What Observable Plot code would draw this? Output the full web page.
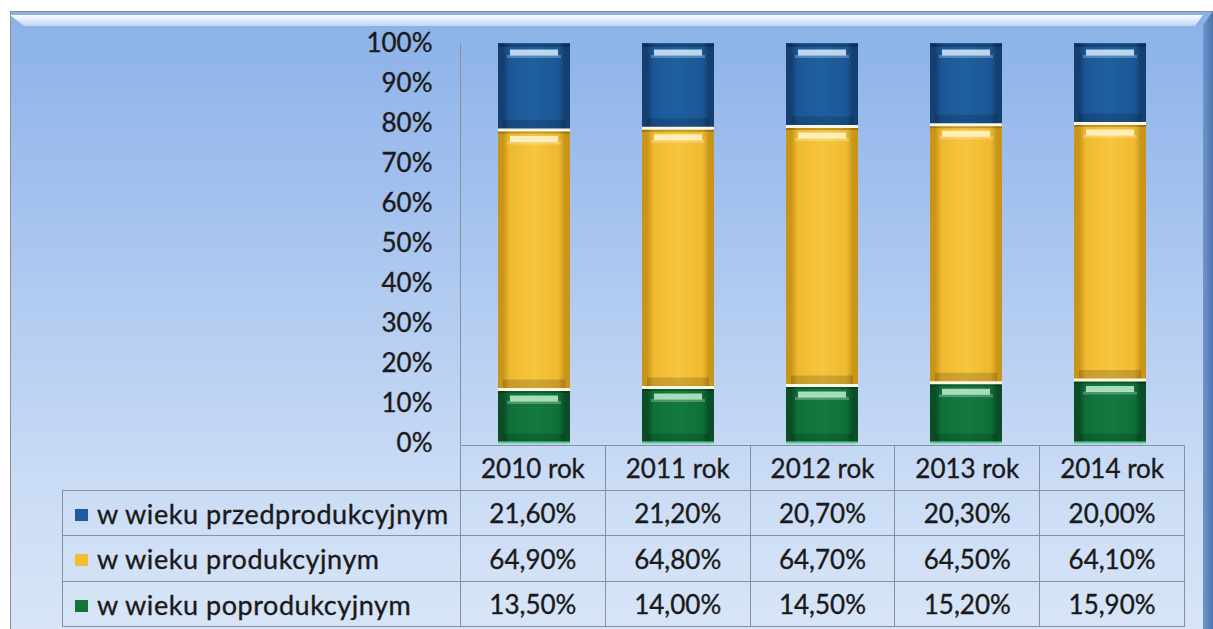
<!DOCTYPE html>
<html><head><meta charset="utf-8">
<script src="https://cdn.jsdelivr.net/npm/d3@7"></script>
<script src="https://cdn.jsdelivr.net/npm/@observablehq/plot@0.6"></script>
<style>
body{margin:0;background:#fff;font-family:Lato,"Open Sans",sans-serif;color:#1a1a1a;}
#frame{position:absolute;left:10px;top:11px;width:1203px;height:620px;overflow:hidden;
  background:linear-gradient(to bottom,#8ab1e8 0%,#9fbeed 25%,#b4cdf1 50%,#c9dbf5 75%,#d8e5f7 100%);
  box-shadow:inset 1px 1px 0 0 #8e8e8e;}
#rightedge{position:absolute;right:0;top:0;width:10px;height:100%;
  background:linear-gradient(to right,#6f95cf,#4f74ad);clip-path:polygon(0 14px,100% 0,100% 100%,0 100%);}
#bevel{position:absolute;left:0;top:4px;width:1193px;height:11px;
  background:linear-gradient(to bottom,rgba(255,255,255,0.97),rgba(255,255,255,0.45));
  clip-path:polygon(0 0,100% 0,calc(100% - 8px) 100%,14px 100%);}
#chart{position:absolute;left:0;top:0;}
#axisline{position:absolute;left:450px;top:32px;width:1px;height:402px;background:#8a8fa0;}
#tbl{position:absolute;left:52px;top:434px;border-collapse:collapse;table-layout:fixed;font-size:26px;-webkit-text-stroke:0.35px #1a1a1a;}
#tbl td{border:1px solid #8a8fa0;text-align:center;padding:0;white-space:nowrap;}
#tbl td.lab{text-align:left;padding-left:12px;font-size:27px;letter-spacing:0.55px;}
#tbl td.empty{border-top:none;border-left:none;}
.sw{display:inline-block;width:13px;height:12px;margin-right:9px;vertical-align:middle;position:relative;top:-2px;-webkit-text-stroke:0;}
#chart text{stroke:#1a1a1a;stroke-width:0.35px;}
</style></head>
<body>
<div id="frame">
  <div id="bevel"></div>
  <div id="rightedge"></div>
  <div id="chart"></div>
  <div id="axisline"></div>
  <table id="tbl"></table>
</div>
<script>
const years = ["2010 rok","2011 rok","2012 rok","2013 rok","2014 rok"];
const seriesNames = ["w wieku przedprodukcyjnym","w wieku produkcyjnym","w wieku poprodukcyjnym"];
const przed = [21.6, 21.2, 20.7, 20.3, 20.0];
const prod = [64.9, 64.8, 64.7, 64.5, 64.1];
const poprod = [13.5, 14.0, 14.5, 15.2, 15.9];
const yTicks = [0,10,20,30,40,50,60,70,80,90,100];
const swatch = ["#1f5b9c","#f2be36","#127539"];

// stacking bottom -> top: poprod, prod, przed (Excel 100% stacked)
const stackSeries = [
  {name: seriesNames[2], vals: poprod, id: "gGreen", hi: "#bff0cf"},
  {name: seriesNames[1], vals: prod, id: "gYellow", hi: "#fff6cf"},
  {name: seriesNames[0], vals: przed, id: "gBlue", hi: "#d8ecff"}
];
const rows = [];
years.forEach((yr, i) => {
  const tot = d3.sum(stackSeries, s => s.vals[i]);
  let c = 0;
  stackSeries.forEach((s, j) => {
    const v = s.vals[i] / tot * 100;
    rows.push({year: yr, series: s.name, k: j, y1: c, y2: c + v});
    c += v;
  });
});

const defs = () => {
  const d = document.createElementNS("http://www.w3.org/2000/svg", "defs");
  const grad = (id, e, m, l) => `<linearGradient id="${id}" x1="0" x2="1" y1="0" y2="0">
    <stop offset="0" stop-color="${e}"/><stop offset="0.07" stop-color="${e}"/><stop offset="0.16" stop-color="${m}"/>
    <stop offset="0.5" stop-color="${l}"/><stop offset="0.84" stop-color="${m}"/>
    <stop offset="0.93" stop-color="${e}"/><stop offset="1" stop-color="${e}"/></linearGradient>`;
  d.innerHTML = grad("gBlue", "#143f6f", "#1b5796", "#1f5fa0") +
    grad("gYellow", "#c99519", "#efb92f", "#f6c63e") +
    grad("gGreen", "#0b4d26", "#107038", "#137a3e");
  return d;
};

const marks = [defs];
stackSeries.forEach((s, j) => {
  const data = rows.filter(r => r.k === j);
  marks.push(Plot.rectY(data, {x: "year", y1: "y1", y2: "y2", fill: `url(#${s.id})`}));
  // bevel: dark top edge, bright highlight face, dark bottom face
  marks.push(Plot.tickY(data, {x: "year", y: "y2", dy: 2, stroke: "#000", strokeOpacity: 0.22, strokeWidth: 3}));
  marks.push(Plot.tickY(data, {x: "year", y: "y2", dy: 9, stroke: s.hi, strokeOpacity: 0.85, strokeWidth: 6, insetLeft: 12, insetRight: 12}));
  marks.push(Plot.tickY(data, {x: "year", y: "y2", dy: 13, stroke: "#fff", strokeOpacity: 0.25, strokeWidth: 3, insetLeft: 9, insetRight: 9}));
  marks.push(Plot.tickY(data, {x: "year", y: "y1", dy: -5, stroke: "#000", strokeOpacity: 0.16, strokeWidth: 10, insetLeft: 5, insetRight: 5}));
  if (j > 0) marks.push(Plot.tickY(data, {x: "year", y: "y1", stroke: "#fcf7e2", strokeWidth: 3}));
  else marks.push(Plot.tickY(data, {x: "year", y: "y1", dy: -1, stroke: "#62cf92", strokeWidth: 2}));
});

const chart = Plot.plot({
  width: 1193, height: 436,
  marginLeft: 450, marginRight: 19, marginTop: 32, marginBottom: 4,
  style: {background: "transparent", fontFamily: "Lato, 'Open Sans', sans-serif", fontSize: "26px", color: "#1a1a1a", overflow: "visible"},
  x: {domain: years, paddingInner: 0.5, paddingOuter: 0.25, axis: null},
  y: {domain: [0, 100], ticks: yTicks, tickFormat: d => d + "%", tickSize: 0, tickPadding: 28, label: null},
  marks
});
document.getElementById("chart").appendChild(chart);

// data table below the plot
const fmt = v => v.toFixed(2).replace(".", ",") + "%";
const tbl = document.getElementById("tbl");
const colW = 144.8;
let html = `<colgroup><col style="width:398px">${years.map(() => `<col style="width:${colW}px">`).join("")}</colgroup>`;
html += `<tr style="height:45px"><td class="empty"></td>${years.map(y => `<td>${y}</td>`).join("")}</tr>`;
const tableSeries = [[seriesNames[0], przed, swatch[0]], [seriesNames[1], prod, swatch[1]], [seriesNames[2], poprod, swatch[2]]];
tableSeries.forEach(([n, vals, c], i) => {
  html += `<tr style="height:${i === 1 ? 46 : 45}px"><td class="lab"><span class="sw" style="background:${c}"></span>${n}</td>${vals.map(v => `<td>${fmt(v)}</td>`).join("")}</tr>`;
});
tbl.innerHTML = html;
</script>
</body></html>
